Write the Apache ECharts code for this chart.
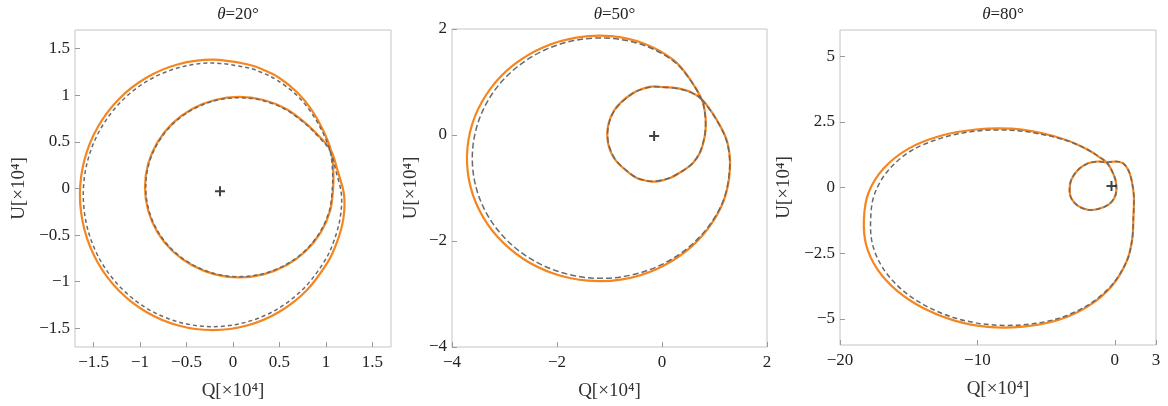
<!DOCTYPE html>
<html>
<head>
<meta charset="utf-8">
<script src="https://cdn.jsdelivr.net/npm/echarts@6/dist/echarts.min.js"></script>
<style>
html,body{margin:0;padding:0;background:#fff;}
#chart{width:1168px;height:406px;}
</style>
</head>
<body>
<div id="chart"></div>
<script>
// ---------- data (Q, U in units of 1e4) ----------
const titles = ['20°', '50°', '80°'];

const p1XTicks = [-1.5, -1, -0.5, 0, 0.5, 1, 1.5];
const p1YTicks = [-1.5, -1, -0.5, 0, 0.5, 1, 1.5];
const p2XTicks = [-4, -2, 0, 2];
const p2YTicks = [-4, -2, 0, 2];
const p3XTicks = [-20, -10, 0, 3];
const p3YTicks = [-5, -2.5, 0, 2.5, 5];

// theta = 20 deg : solid (orange) and dashed (gray) closed curves
const p1Solid = [
  [1.056,0.404],[1.131,0.174],[1.195,-0.068],[1.188,-0.320],[1.123,-0.564],[1.018,-0.793],
  [0.791,-1.093],[0.495,-1.324],[0.151,-1.469],[-0.219,-1.518],[-0.588,-1.469],[-0.933,-1.324],
  [-1.229,-1.093],[-1.456,-0.793],[-1.598,-0.443],[-1.647,-0.068],[-1.598,0.308],[-1.456,0.657],
  [-1.229,0.958],[-0.933,1.188],[-0.588,1.333],[-0.219,1.382],[0.151,1.333],[0.328,1.272],
  [0.495,1.188],[0.690,1.032],[0.848,0.841],[0.968,0.628],[1.056,0.404],
  [1.079,0.185],[1.078,0.014],[1.046,-0.236],[0.944,-0.470],[0.783,-0.670],[0.573,-0.824],
  [0.328,-0.921],[0.066,-0.954],[-0.196,-0.921],[-0.440,-0.824],[-0.651,-0.670],[-0.812,-0.470],
  [-0.913,-0.236],[-0.947,0.014],[-0.913,0.265],[-0.812,0.498],[-0.651,0.699],[-0.440,0.853],
  [-0.196,0.949],[0.066,0.982],[0.328,0.949],[0.573,0.853],[0.783,0.699],[0.934,0.552],[1.056,0.404]
];
const p1Dashed = [
  [1.045,0.400],[1.112,0.170],[1.167,-0.068],[1.153,-0.314],[1.089,-0.552],[0.987,-0.775],
  [0.766,-1.067],[0.477,-1.293],[0.142,-1.434],[-0.219,-1.482],[-0.579,-1.434],[-0.915,-1.293],
  [-1.204,-1.067],[-1.425,-0.775],[-1.564,-0.434],[-1.611,-0.068],[-1.564,0.299],[-1.425,0.639],
  [-1.204,0.932],[-0.915,1.157],[-0.579,1.298],[-0.219,1.346],[0.142,1.298],[0.315,1.241],
  [0.477,1.160],[0.674,1.012],[0.833,0.828],[0.956,0.621],[1.045,0.400],
  [1.071,0.184],[1.070,0.014],[1.038,-0.234],[0.937,-0.466],[0.777,-0.665],[0.569,-0.817],
  [0.326,-0.914],[0.066,-0.946],[-0.194,-0.914],[-0.436,-0.817],[-0.645,-0.665],[-0.805,-0.466],
  [-0.905,-0.234],[-0.939,0.014],[-0.905,0.263],[-0.805,0.494],[-0.645,0.694],[-0.436,0.846],
  [-0.194,0.942],[0.066,0.974],[0.326,0.942],[0.569,0.846],[0.777,0.694],[0.927,0.548],[1.045,0.400]
];
const p1Center = [-0.14, -0.03];

// theta = 50 deg
const p2Solid = [
  [0.757,0.676],[1.033,0.302],[1.242,-0.129],[1.294,-0.642],[1.178,-1.234],[0.873,-1.771],
  [0.429,-2.216],[-0.127,-2.541],[-0.754,-2.723],[-1.413,-2.749],[-2.055,-2.618],[-2.639,-2.339],
  [-3.125,-1.931],[-3.479,-1.421],[-3.677,-0.844],[-3.705,-0.241],[-3.563,0.350],[-3.259,0.886],
  [-2.814,1.331],[-2.259,1.657],[-1.631,1.838],[-0.973,1.865],[-0.335,1.723],[0.222,1.413],
  [0.541,1.042],[0.757,0.676],
  [0.815,0.45],[0.835,0.20],[0.81,-0.05],[0.725,-0.33],[0.58,-0.54],[0.407,-0.67],
  [0.153,-0.81],[-0.134,-0.879],[-0.36,-0.85],[-0.566,-0.761],[-0.915,-0.434],[-1.043,0.011],
  [-0.915,0.457],[-0.566,0.783],[-0.229,0.909],[0.025,0.904],[0.28,0.884],[0.534,0.815],[0.757,0.676]
];
const p2Dashed = [
  [0.752,0.672],[1.028,0.300],[1.236,-0.129],[1.288,-0.640],[1.170,-1.231],[0.859,-1.761],
  [0.409,-2.195],[-0.144,-2.506],[-0.764,-2.675],[-1.408,-2.694],[-2.031,-2.557],[-2.593,-2.279],
  [-3.057,-1.878],[-3.392,-1.384],[-3.578,-0.828],[-3.605,-0.249],[-3.473,0.319],[-3.189,0.841],
  [-2.766,1.279],[-2.232,1.604],[-1.622,1.793],[-0.976,1.823],[-0.345,1.694],[0.212,1.400],
  [0.538,1.039],[0.752,0.672],
  [0.811,0.448],[0.830,0.199],[0.805,-0.050],[0.721,-0.328],[0.577,-0.537],[0.405,-0.667],
  [0.152,-0.806],[-0.134,-0.875],[-0.358,-0.846],[-0.563,-0.757],[-0.910,-0.431],[-1.038,0.011],
  [-0.910,0.455],[-0.563,0.779],[-0.228,0.904],[0.025,0.899],[0.278,0.879],[0.531,0.811],[0.752,0.672]
];
const p2Center = [-0.15, -0.02];

// theta = 80 deg
const p3Solid = [
  [-0.61,0.96],[-0.24,0.67],[0.05,0.29],[0.12,-0.09],[-0.04,-0.41],[-0.48,-0.66],[-1.21,-0.82],
  [-1.95,-0.85],[-2.68,-0.70],[-3.17,-0.41],[-3.29,-0.09],[-3.17,0.29],[-2.68,0.67],
  [-1.95,0.92],[-1.21,0.99],[-0.61,0.96],[0.12,0.99],[0.61,0.92],[0.98,0.67],[1.22,0.29],
  [1.39,-0.34],[1.36,-1.08],[1.26,-2.00],[0.85,-2.83],[-0.20,-3.74],[-1.90,-4.51],[-4.12,-5.05],
  [-6.66,-5.30],[-9.25,-5.31],[-11.73,-5.06],[-13.96,-4.59],[-15.84,-3.94],[-17.26,-3.13],
  [-18.09,-2.20],[-18.26,-1.21],[-17.93,-0.21],[-16.83,0.72],[-15.01,1.48],[-12.66,1.97],
  [-10.12,2.21],[-7.53,2.24],[-5.33,2.07],[-3.38,1.78],[-1.90,1.42],[-1.10,1.15],[-0.61,0.96]
];
const p3Dashed = [
  [-0.61,0.96],[-0.24,0.67],[0.05,0.29],[0.12,-0.09],[-0.04,-0.41],[-0.48,-0.66],[-1.21,-0.82],
  [-1.95,-0.85],[-2.68,-0.70],[-3.17,-0.41],[-3.29,-0.09],[-3.17,0.29],[-2.68,0.67],
  [-1.95,0.92],[-1.21,0.99],[-0.61,0.96],[0.12,0.99],[0.61,0.92],[0.98,0.67],[1.22,0.29],
  [1.39,-0.34],[1.36,-1.08],[1.26,-2.00],[0.85,-2.83],[-0.24,-3.73],[-1.96,-4.48],[-4.19,-5.00],
  [-6.70,-5.23],[-9.23,-5.22],[-11.64,-4.97],[-13.79,-4.50],[-15.57,-3.86],[-16.89,-3.06],
  [-17.63,-2.17],[-17.77,-1.23],[-17.50,-0.27],[-16.51,0.64],[-14.82,1.40],[-12.57,1.89],
  [-10.09,2.15],[-7.54,2.18],[-5.36,2.03],[-3.40,1.77],[-1.90,1.42],[-1.10,1.15],[-0.61,0.96]
];
const p3Center = [-0.24, 0.06];

// ---------- layout ----------
const panels = [
  {grid:{left:75, top:30, width:316, height:317}, xr:[-1.7,1.7], yr:[-1.7,1.7], xt:p1XTicks, yt:p1YTicks,
   solid:p1Solid, dashed:p1Dashed, center:p1Center, dash:[4,3], yGap:46},
  {grid:{left:452, top:29, width:315, height:318}, xr:[-4,2], yr:[-4,2], xt:p2XTicks, yt:p2YTicks,
   solid:p2Solid, dashed:p2Dashed, center:p2Center, dash:[6,3], yGap:31},
  {grid:{left:840, top:30, width:316, height:315}, xr:[-20,3], yr:[-6,6], xt:p3XTicks, yt:p3YTicks,
   solid:p3Solid, dashed:p3Dashed, center:p3Center, dash:[5,3], yGap:46}
];

const FONT = '"Liberation Serif", "Times New Roman", serif';
const fmt = v => (v < 0 ? '\u2212' + String(-v) : String(v));
const ORANGE = '#f5861f';
const GRAY = '#6a6a6a';
const plusPath = 'path://M4,0h2v4h4v2h-4v4h-2v-4h-4v-2h4z';

// closed Catmull-Rom path through pixel points (first point == last point)
function closedSplinePath(pts) {
  const n = pts.length;
  const get = i => (i < 0 ? pts[n - 1 + i] : (i >= n ? pts[i - n + 1] : pts[i]));
  const f = v => v.toFixed(2);
  let d = 'M' + f(pts[0][0]) + ' ' + f(pts[0][1]);
  for (let i = 0; i < n - 1; i++) {
    const p0 = get(i - 1), p1 = pts[i], p2 = pts[i + 1], p3 = get(i + 2);
    const c1x = p1[0] + (p2[0] - p0[0]) / 6, c1y = p1[1] + (p2[1] - p0[1]) / 6;
    const c2x = p2[0] - (p3[0] - p1[0]) / 6, c2y = p2[1] - (p3[1] - p1[1]) / 6;
    d += ' C' + f(c1x) + ' ' + f(c1y) + ' ' + f(c2x) + ' ' + f(c2y) + ' ' + f(p2[0]) + ' ' + f(p2[1]);
  }
  return d;
}

function curveSeries(i, pts, style, z) {
  return {
    type: 'custom', xAxisIndex: i, yAxisIndex: i, data: pts, z: z, silent: true, clip: false,
    encode: {x: 0, y: 1},
    renderItem: function (params, api) {
      if (params.dataIndex !== 0) return null;
      const px = pts.map(p => api.coord(p));
      return {type: 'path', shape: {pathData: closedSplinePath(px)},
        style: Object.assign({fill: 'none'}, style)};
    }
  };
}

const option = {
  animation: false,
  backgroundColor: '#fff',
  title: [], grid: [], xAxis: [], yAxis: [], series: []
};

panels.forEach((p, i) => {
  option.grid.push(Object.assign({show:true, borderColor:'#c4c4c4', borderWidth:1, containLabel:false}, p.grid));
  option.title.push({
    text: '{i|θ}=' + titles[i],
    left: p.grid.left + p.grid.width / 2, top: 1, textAlign: 'center',
    textStyle: {fontFamily: FONT, fontSize: 17, fontWeight: 'normal', color: '#222',
      rich: {i: {fontFamily: FONT, fontSize: 17, fontStyle: 'italic', color: '#222'}}}
  });
  option.xAxis.push({
    gridIndex: i, type: 'value', min: p.xr[0], max: p.xr[1],
    axisLine: {show: false, onZero: false}, splitLine: {show: false},
    axisTick: {inside: true, length: 5, lineStyle: {color: '#9a9a9a'}, customValues: p.xt},
    axisLabel: {customValues: p.xt, formatter: fmt, fontFamily: FONT, fontSize: 17, color: '#222', margin: 7},
    name: 'Q[×10⁴]', nameLocation: 'middle', nameGap: 35,
    nameTextStyle: {fontFamily: FONT, fontSize: 19, color: '#333'}
  });
  option.yAxis.push({
    gridIndex: i, type: 'value', min: p.yr[0], max: p.yr[1],
    axisLine: {show: false, onZero: false}, splitLine: {show: false},
    axisTick: {inside: true, length: 5, lineStyle: {color: '#9a9a9a'}, customValues: p.yt},
    axisLabel: {customValues: p.yt, formatter: fmt, fontFamily: FONT, fontSize: 17, color: '#222', margin: 5},
    name: 'U[×10⁴]', nameLocation: 'middle', nameGap: p.yGap,
    nameTextStyle: {fontFamily: FONT, fontSize: 19, color: '#333'}
  });
  option.series.push(curveSeries(i, p.solid, {stroke: ORANGE, lineWidth: 2.2}, 2));
  option.series.push(curveSeries(i, p.dashed, {stroke: GRAY, lineWidth: 1.5, lineDash: p.dash}, 3));
  option.series.push({
    type: 'scatter', xAxisIndex: i, yAxisIndex: i, data: [p.center], symbol: plusPath,
    symbolSize: 10, itemStyle: {color: '#111'}, z: 4
  });
});

const chart = echarts.init(document.getElementById('chart'), null, {renderer: 'canvas'});
chart.setOption(option);
</script>
</body>
</html>
